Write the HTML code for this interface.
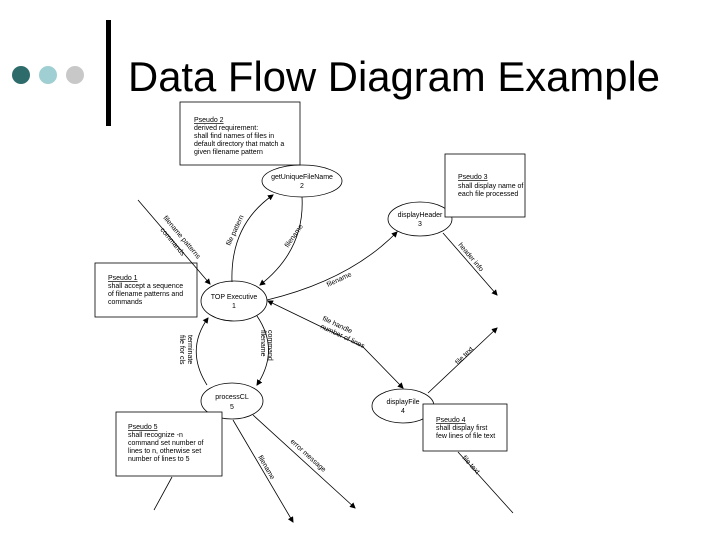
<!DOCTYPE html>
<html><head><meta charset="utf-8"><style>
body{margin:0;background:#fff;}
svg{display:block;font-family:"Liberation Sans",sans-serif;}
.s{font-size:7px;fill:#000;}
</style></head><body>
<svg width="720" height="540" viewBox="0 0 720 540" xmlns="http://www.w3.org/2000/svg">
<defs><marker id="a" markerWidth="6" markerHeight="6" refX="5" refY="3" orient="auto" markerUnits="userSpaceOnUse"><path d="M0,0 L6,3 L0,6 z" fill="#000"/></marker>
<marker id="b" markerWidth="6" markerHeight="6" refX="1" refY="3" orient="auto" markerUnits="userSpaceOnUse"><path d="M6,0 L0,3 L6,6 z" fill="#000"/></marker></defs>
<circle cx="21" cy="75" r="9" fill="#2e6b6b"/>
<circle cx="48" cy="75" r="9" fill="#9fcfd2"/>
<circle cx="75" cy="75" r="9" fill="#c8c8c8"/>
<rect x="106" y="20" width="5" height="106" fill="#000"/>
<text x="128" y="91" font-size="42" fill="#000" textLength="532" lengthAdjust="spacingAndGlyphs">Data Flow Diagram Example</text>
<g fill="none" stroke="#000" stroke-width="0.8">
<rect x="180" y="102" width="120" height="63" fill="#fff"/>
<ellipse cx="302" cy="181" rx="40" ry="16"/>
<ellipse cx="420" cy="219" rx="32" ry="17"/>
<rect x="445" y="154" width="80" height="63" fill="#fff"/>
<rect x="95" y="263" width="102" height="54" fill="#fff"/>
<ellipse cx="234" cy="301" rx="33" ry="20"/>
<ellipse cx="232" cy="401" rx="31" ry="18"/>
<ellipse cx="403" cy="406" rx="31" ry="17"/>
<rect x="423" y="404" width="84" height="47" fill="#fff"/>
<rect x="116" y="412" width="106" height="64" fill="#fff"/>
<path d="M138,200 L210,284" marker-end="url(#a)"/>
<path d="M232,282 Q230,225 273,195" marker-end="url(#a)"/>
<path d="M302,197 Q305,250 260,285" marker-end="url(#a)"/>
<path d="M267,300 Q350,280 397,232" marker-end="url(#a)"/>
<path d="M443,233 L497,295" marker-end="url(#a)"/>
<path d="M268,301 L363,347 L403,388" marker-start="url(#b)" marker-end="url(#a)"/>
<path d="M428,393 L497,328" marker-end="url(#a)"/>
<path d="M207,385 Q185,350 208,318" marker-end="url(#a)"/>
<path d="M257,316 Q280,350 257,385" marker-end="url(#a)"/>
<path d="M172,477 L154,510"/>
<path d="M233,420 L293,522" marker-end="url(#a)"/>
<path d="M253,415 L355,508" marker-end="url(#a)"/>
<path d="M458,452 L513,513"/>
</g>
<g class="s">
<text x="194" y="122" text-decoration="underline">Pseudo 2</text>
<text x="194" y="130">derived requirement:</text>
<text x="194" y="138">shall find names of files in</text>
<text x="194" y="146">default directory that match a</text>
<text x="194" y="154">given filename pattern</text>
<text x="302" y="179" text-anchor="middle">getUniqueFileName</text>
<text x="302" y="188" text-anchor="middle">2</text>
<text x="458" y="179" text-decoration="underline">Pseudo 3</text>
<text x="458" y="188">shall display name of</text>
<text x="458" y="196">each file processed</text>
<text x="420" y="217" text-anchor="middle">displayHeader</text>
<text x="420" y="226" text-anchor="middle">3</text>
<text x="108" y="280" text-decoration="underline">Pseudo 1</text>
<text x="108" y="288">shall accept a sequence</text>
<text x="108" y="296">of filename patterns and</text>
<text x="108" y="304">commands</text>
<text x="234" y="299" text-anchor="middle">TOP Executive</text>
<text x="234" y="308" text-anchor="middle">1</text>
<text x="232" y="399" text-anchor="middle">processCL</text>
<text x="232" y="409" text-anchor="middle">5</text>
<text x="403" y="404" text-anchor="middle">displayFile</text>
<text x="403" y="413" text-anchor="middle">4</text>
<text x="436" y="422" text-decoration="underline">Pseudo 4</text>
<text x="436" y="430">shall display first</text>
<text x="436" y="438">few lines of file text</text>
<text x="128" y="429" text-decoration="underline">Pseudo 5</text>
<text x="128" y="437">shall recognize -n</text>
<text x="128" y="445">command set number of</text>
<text x="128" y="453">lines to n, otherwise set</text>
<text x="128" y="461">number of lines to 5</text>
<text transform="translate(163,218) rotate(50)">filename patterns</text>
<text transform="translate(160,230) rotate(50)">commands</text>
<text transform="translate(230,246) rotate(-65)">file pattern</text>
<text transform="translate(288,248) rotate(-55)">filename</text>
<text transform="translate(328,287) rotate(-25)">filename</text>
<text transform="translate(458,245) rotate(50)">header info</text>
<text transform="translate(322,320) rotate(25)">file handle</text>
<text transform="translate(320,328) rotate(25)">number of lines</text>
<text transform="translate(458,365) rotate(-45)">file text</text>
<text transform="translate(188,335) rotate(90)">terminate</text>
<text transform="translate(180,335) rotate(90)">file for cls</text>
<text transform="translate(268,330) rotate(90)">command</text>
<text transform="translate(261,330) rotate(90)">filename</text>
<text transform="translate(258,457) rotate(60)">filename</text>
<text transform="translate(290,442) rotate(42)">error message</text>
<text transform="translate(462,458) rotate(48)">file text</text>
</g>
</svg>
</body></html>
